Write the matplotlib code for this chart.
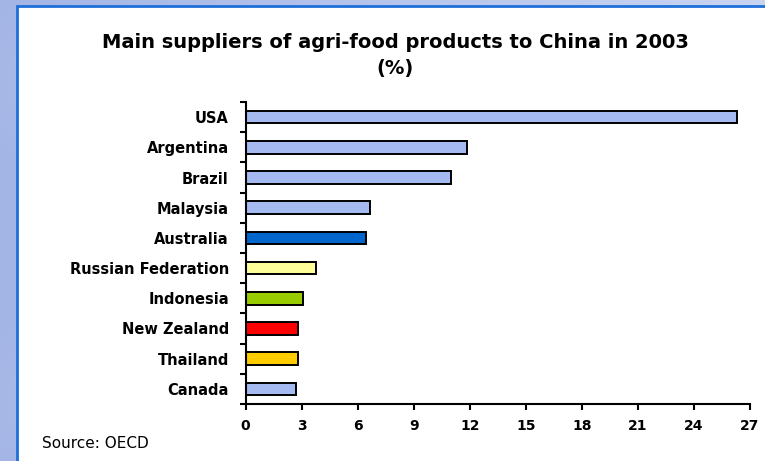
import numpy as np
import matplotlib.pyplot as plt
from matplotlib.patches import Rectangle

countries = ['USA', 'Argentina', 'Brazil', 'Malaysia', 'Australia',
             'Russian Federation', 'Indonesia', 'New Zealand', 'Thailand', 'Canada']
shares = [26.3, 11.85, 11.0, 6.64, 6.43, 3.75, 3.09, 2.79, 2.79, 2.68]
colors = ['#a6baf2', '#a6baf2', '#a6baf2', '#a6baf2', '#0066cc',
          '#ffff99', '#99cc00', '#ff0000', '#ffcc00', '#a6baf2']
xticks = [0, 3, 6, 9, 12, 15, 18, 21, 24, 27]

W, H = 765, 461
fig = plt.figure(figsize=(W / 100, H / 100), dpi=100)

# slide-style background: blue gradient strips on the left and top
bg = fig.add_axes([0, 0, 1, 1], zorder=-10)
gx = np.linspace(0, 1, 200)
gy = np.linspace(0, 1, 120)
grad = 0.55 * gx[None, :] + 0.05 * np.sin(gy[:, None] * 9)
c0 = np.array([0.64, 0.71, 0.90])
c1 = np.array([0.90, 0.93, 0.98])
img = c0 + (c1 - c0) * np.clip(grad, 0, 1)[..., None]
bg.imshow(img, aspect='auto', extent=[0, 1, 0, 1])
bg.set_xlim(0, 1)
bg.set_ylim(0, 1)
bg.axis('off')
bg.add_patch(Rectangle((17 / W, -0.01), 1, (H - 6) / H + 0.01, facecolor='white',
                       edgecolor='#1f6fd8', linewidth=2))

ax = fig.add_axes([245.5 / W, 57 / H, (750 - 245.5) / W, (404 - 102) / H])
ax.patch.set_alpha(0)
y = np.arange(len(countries))
ax.barh(y, shares, height=0.42, color=colors, edgecolor='black', linewidth=1.4)
ax.set_ylim(len(countries) - 0.5, -0.5)
ax.set_xlim(0, 27)
ax.set_xticks(xticks)

ax.set_yticks(y)
ax.set_yticklabels(countries)
ax.set_yticks(np.arange(-0.5, len(countries)), minor=True)
ax.tick_params(axis='y', which='major', length=0, pad=12)
ax.tick_params(axis='y', which='minor', length=4.5, width=1.5, direction='out')
ax.tick_params(axis='x', length=4, width=1.5, direction='out', pad=7)
for lab in ax.get_yticklabels():
    lab.set_fontweight('bold')
    lab.set_fontsize(10.5)
    lab.set_family('DejaVu Sans')
for lab in ax.get_xticklabels():
    lab.set_fontweight('bold')
    lab.set_fontsize(10)
    lab.set_family('DejaVu Sans')

for s in ['top', 'right']:
    ax.spines[s].set_visible(False)
for s in ['left', 'bottom']:
    ax.spines[s].set_linewidth(1.5)

fig.text(395 / W, 1 - 42 / H, 'Main suppliers of agri-food products to China in 2003',
         ha='center', va='center', fontsize=14, fontweight='bold', family='DejaVu Sans')
fig.text(395 / W, 1 - 68 / H, '(%)', ha='center', va='center', fontsize=14,
         fontweight='bold', family='DejaVu Sans')
fig.text(42 / W, 1 - 443 / H, 'Source: OECD', ha='left', va='center', fontsize=11,
         family='DejaVu Sans')

fig.savefig('out.png', dpi=100)
